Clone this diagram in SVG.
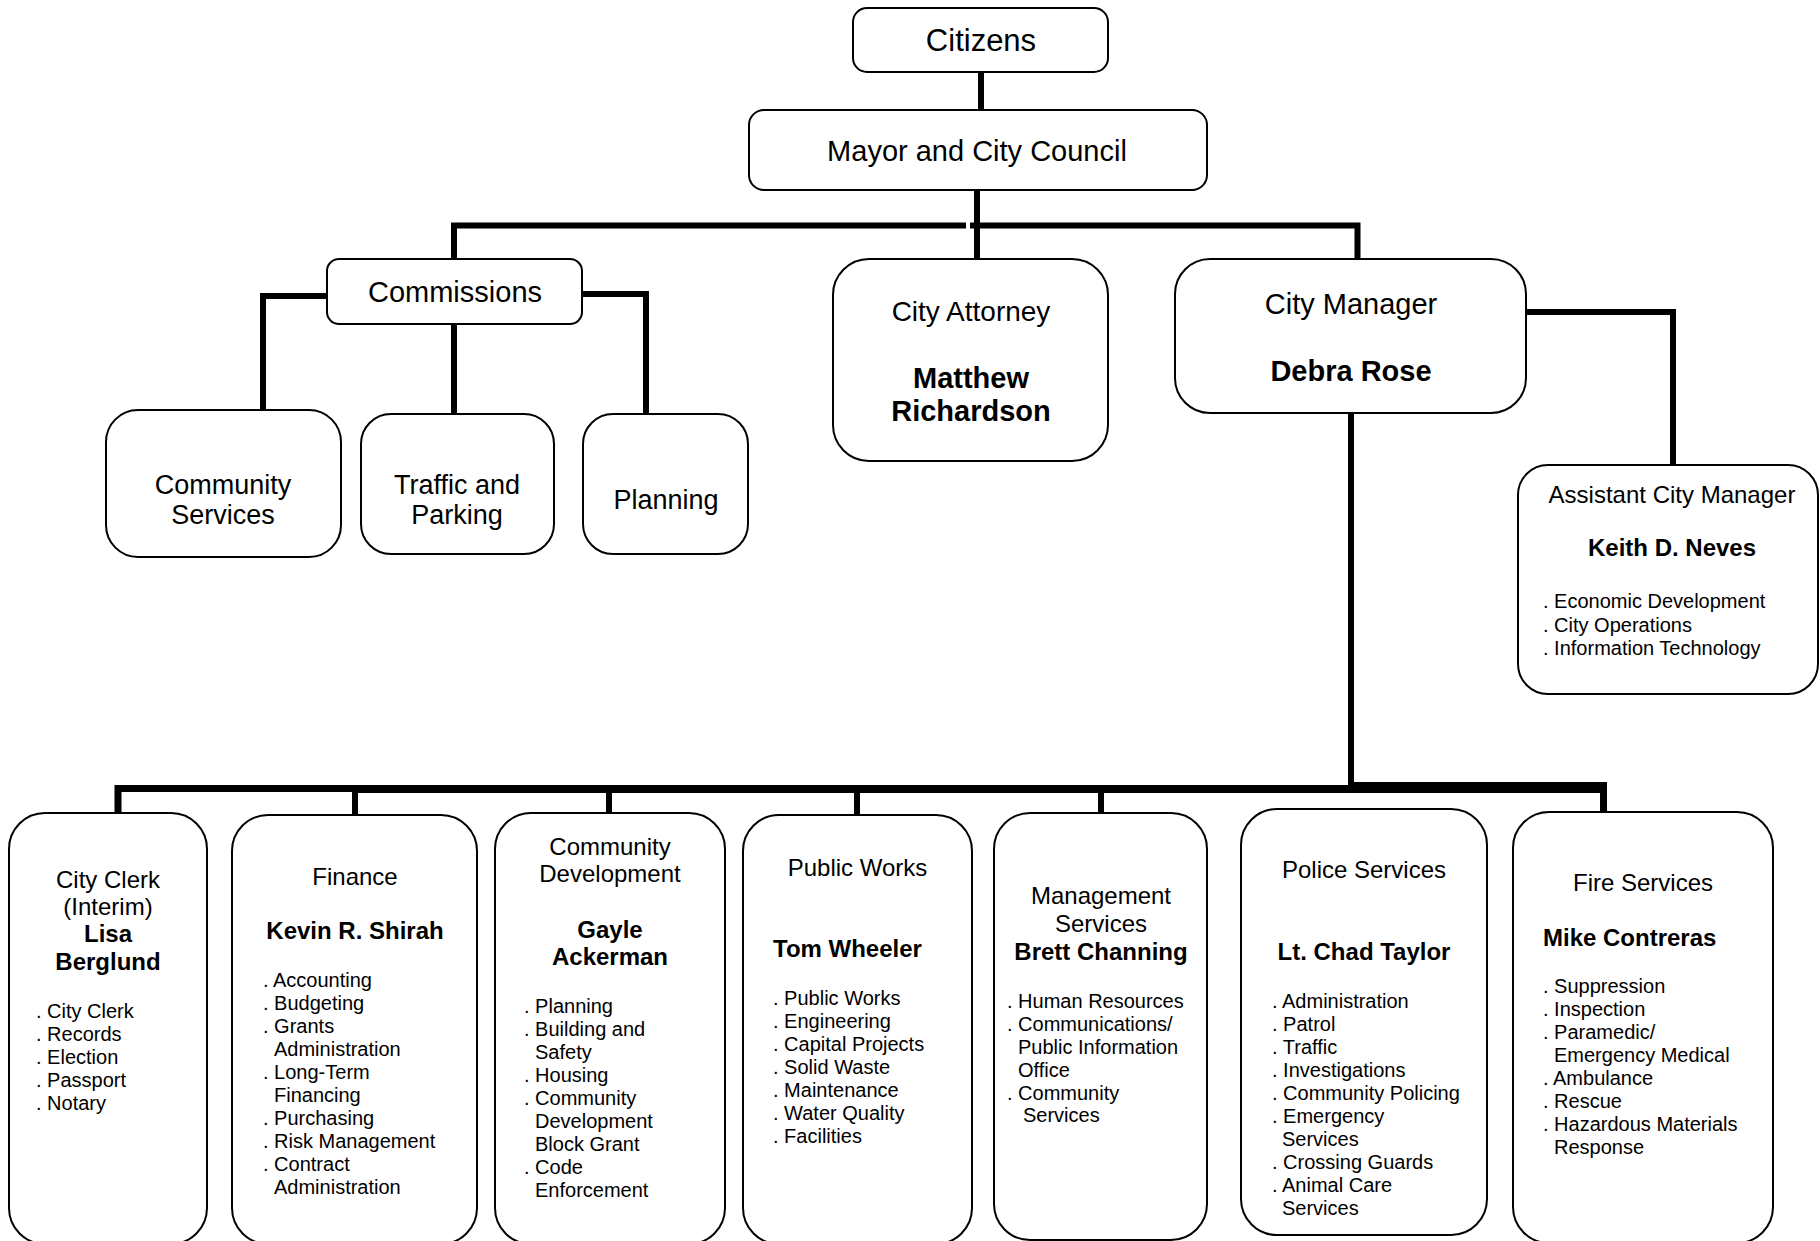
<svg xmlns="http://www.w3.org/2000/svg" width="1820" height="1241" viewBox="0 0 1820 1241">
<style>
.box{fill:#fff;stroke:#000;stroke-width:2}
.c{fill:none;stroke:#000;stroke-width:6;stroke-linejoin:miter;stroke-linecap:butt}
text{font-family:"Liberation Sans",Arial,sans-serif;fill:#000}
.m{text-anchor:middle}
.b{font-weight:bold}
.t24{font-size:24px}
.t20{font-size:20px}
</style>
<rect width="1820" height="1241" fill="#fff"/>
<g id="connectors">
<path class="c" d="M981,72 V110"/>
<path class="c" d="M977,190 V259"/>
<path class="c" d="M454,259 V225.5 H966"/>
<path class="c" d="M970,225.5 H1357.5 V259"/>
<path class="c" d="M327,296 H263 V410"/>
<path class="c" d="M454,324 V414"/>
<path class="c" d="M582,294 H646 V414"/>
<path class="c" d="M1526,312 H1673 V465"/>
<path class="c" d="M1351,413 V786"/>
<path class="c" style="stroke-width:7" d="M118,813 V788.5 H355"/>
<path class="c" style="stroke-width:8" d="M355,789 H1351"/>
<rect x="1348" y="782" width="259" height="11" fill="#000"/>
<rect x="1600" y="782" width="7" height="30" fill="#000"/>
<path class="c" d="M355,789 V814"/>
<path class="c" d="M609,789 V813"/>
<path class="c" d="M857,789 V814"/>
<path class="c" d="M1101,789 V812"/>
</g>
<g id="citizens">
<rect class="box" x="853" y="8" width="255" height="64" rx="14"/>
<text class="m" x="981" y="51" font-size="31">Citizens</text>
</g>
<g id="mayor-council">
<rect class="box" x="749" y="110" width="458" height="80" rx="15"/>
<text class="m" x="977" y="161" font-size="29">Mayor and City Council</text>
</g>
<g id="commissions">
<rect class="box" x="327" y="259" width="255" height="65" rx="12"/>
<text class="m" x="455" y="302" font-size="29">Commissions</text>
</g>
<g id="comm-community-services">
<rect class="box" x="106" y="410" width="235" height="147" rx="32"/>
<text class="m" x="223" y="494" font-size="27">Community</text>
<text class="m" x="223" y="524" font-size="27">Services</text>
</g>
<g id="comm-traffic-parking">
<rect class="box" x="361" y="414" width="193" height="140" rx="30"/>
<text class="m" x="457" y="494" font-size="27">Traffic and</text>
<text class="m" x="457" y="524" font-size="27">Parking</text>
</g>
<g id="comm-planning">
<rect class="box" x="583" y="414" width="165" height="140" rx="30"/>
<text class="m" x="666" y="509" font-size="27">Planning</text>
</g>
<g id="city-attorney">
<rect class="box" x="833" y="259" width="275" height="202" rx="36"/>
<text class="m" x="971" y="321" font-size="28">City Attorney</text>
<text class="m b" x="971" y="388" font-size="29">Matthew</text>
<text class="m b" x="971" y="421" font-size="29">Richardson</text>
</g>
<g id="city-manager">
<rect class="box" x="1175" y="259" width="351" height="154" rx="35"/>
<text class="m" x="1351" y="314" font-size="29">City Manager</text>
<text class="m b" x="1351" y="381" font-size="29">Debra Rose</text>
</g>
<g id="assistant-city-manager">
<rect class="box" x="1518" y="465" width="300" height="229" rx="30"/>
<text class="m t24" x="1672" y="503">Assistant City Manager</text>
<text class="m b t24" x="1672" y="556">Keith D. Neves</text>
<text class="t20" x="1543" y="608">. Economic Development</text>
<text class="t20" x="1543" y="632">. City Operations</text>
<text class="t20" x="1543" y="655">. Information Technology</text>
</g>
<g id="city-clerk">
<rect class="box" x="9" y="813" width="198" height="431" rx="36"/>
<text class="m t24" x="108" y="888">City Clerk</text>
<text class="m t24" x="108" y="915">(Interim)</text>
<text class="m b t24" x="108" y="942">Lisa</text>
<text class="m b t24" x="108" y="970">Berglund</text>
<text class="t20" x="36" y="1018">. City Clerk</text>
<text class="t20" x="36" y="1041">. Records</text>
<text class="t20" x="36" y="1064">. Election</text>
<text class="t20" x="36" y="1087">. Passport</text>
<text class="t20" x="36" y="1110">. Notary</text>
</g>
<g id="finance">
<rect class="box" x="232" y="815" width="245" height="429" rx="36"/>
<text class="m t24" x="355" y="885">Finance</text>
<text class="m b t24" x="355" y="939">Kevin R. Shirah</text>
<text class="t20" x="263" y="987">. Accounting</text>
<text class="t20" x="263" y="1010">. Budgeting</text>
<text class="t20" x="263" y="1033">. Grants</text>
<text class="t20" x="274" y="1056">Administration</text>
<text class="t20" x="263" y="1079">. Long-Term</text>
<text class="t20" x="274" y="1102">Financing</text>
<text class="t20" x="263" y="1125">. Purchasing</text>
<text class="t20" x="263" y="1148">. Risk Management</text>
<text class="t20" x="263" y="1171">. Contract</text>
<text class="t20" x="274" y="1194">Administration</text>
</g>
<g id="community-development">
<rect class="box" x="495" y="813" width="230" height="431" rx="36"/>
<text class="m t24" x="610" y="855">Community</text>
<text class="m t24" x="610" y="882">Development</text>
<text class="m b t24" x="610" y="938">Gayle</text>
<text class="m b t24" x="610" y="965">Ackerman</text>
<text class="t20" x="524" y="1013">. Planning</text>
<text class="t20" x="524" y="1036">. Building and</text>
<text class="t20" x="535" y="1059">Safety</text>
<text class="t20" x="524" y="1082">. Housing</text>
<text class="t20" x="524" y="1105">. Community</text>
<text class="t20" x="535" y="1128">Development</text>
<text class="t20" x="535" y="1151">Block Grant</text>
<text class="t20" x="524" y="1174">. Code</text>
<text class="t20" x="535" y="1197">Enforcement</text>
</g>
<g id="public-works">
<rect class="box" x="743" y="815" width="229" height="429" rx="36"/>
<text class="m t24" x="857.5" y="876">Public Works</text>
<text class="b t24" x="773" y="957">Tom Wheeler</text>
<text class="t20" x="773" y="1005">. Public Works</text>
<text class="t20" x="773" y="1028">. Engineering</text>
<text class="t20" x="773" y="1051">. Capital Projects</text>
<text class="t20" x="773" y="1074">. Solid Waste</text>
<text class="t20" x="773" y="1097">. Maintenance</text>
<text class="t20" x="773" y="1120">. Water Quality</text>
<text class="t20" x="773" y="1143">. Facilities</text>
</g>
<g id="management-services">
<rect class="box" x="994" y="813" width="213" height="427" rx="36"/>
<text class="m t24" x="1101" y="904">Management</text>
<text class="m t24" x="1101" y="932">Services</text>
<text class="m b t24" x="1101" y="960">Brett Channing</text>
<text class="t20" x="1007" y="1008">. Human Resources</text>
<text class="t20" x="1007" y="1031">. Communications/</text>
<text class="t20" x="1018" y="1054">Public Information</text>
<text class="t20" x="1018" y="1077">Office</text>
<text class="t20" x="1007" y="1100">. Community</text>
<text class="t20" x="1023" y="1122">Services</text>
</g>
<g id="police-services">
<rect class="box" x="1241" y="809" width="246" height="426" rx="36"/>
<text class="m t24" x="1364" y="878">Police Services</text>
<text class="m b t24" x="1364" y="960">Lt. Chad Taylor</text>
<text class="t20" x="1272" y="1008">. Administration</text>
<text class="t20" x="1272" y="1031">. Patrol</text>
<text class="t20" x="1272" y="1054">. Traffic</text>
<text class="t20" x="1272" y="1077">. Investigations</text>
<text class="t20" x="1272" y="1100">. Community Policing</text>
<text class="t20" x="1272" y="1123">. Emergency</text>
<text class="t20" x="1282" y="1146">Services</text>
<text class="t20" x="1272" y="1169">. Crossing Guards</text>
<text class="t20" x="1272" y="1192">. Animal Care</text>
<text class="t20" x="1282" y="1215">Services</text>
</g>
<g id="fire-services">
<rect class="box" x="1513" y="812" width="260" height="431" rx="36"/>
<text class="m t24" x="1643" y="891">Fire Services</text>
<text class="b t24" x="1543" y="946">Mike Contreras</text>
<text class="t20" x="1543" y="993">. Suppression</text>
<text class="t20" x="1543" y="1016">. Inspection</text>
<text class="t20" x="1543" y="1039">. Paramedic/</text>
<text class="t20" x="1554" y="1062">Emergency Medical</text>
<text class="t20" x="1543" y="1085">. Ambulance</text>
<text class="t20" x="1543" y="1108">. Rescue</text>
<text class="t20" x="1543" y="1131">. Hazardous Materials</text>
<text class="t20" x="1554" y="1154">Response</text>
</g>
</svg>
